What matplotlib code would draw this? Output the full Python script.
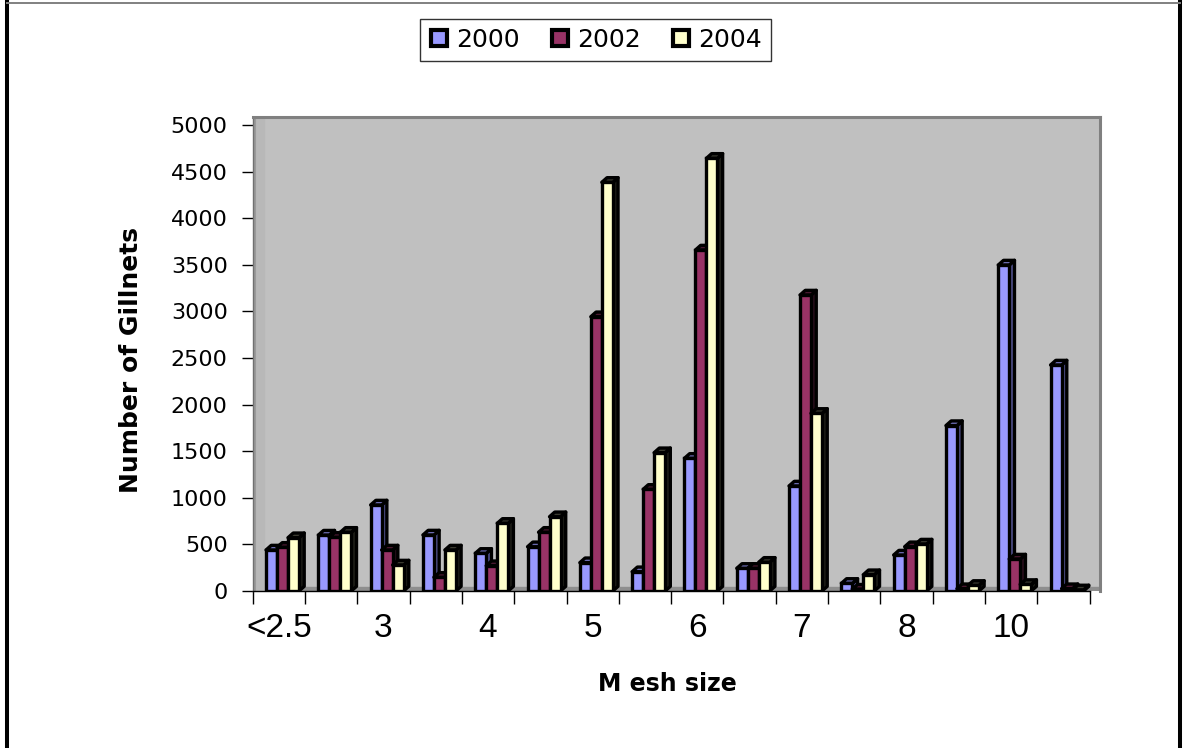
"""Gillnets by mesh size, 2000 / 2002 / 2004 — Excel-style 3D column chart."""
import matplotlib
matplotlib.use("Agg")
import matplotlib.pyplot as plt
import numpy as np
from matplotlib.lines import Line2D
from matplotlib.patches import Polygon

plt.rcParams["font.family"] = ["Liberation Sans", "DejaVu Sans"]

# === Data ===
mesh_labels = ["<2.5", "", "3", "", "4", "", "5", "", "6", "", "7", "", "8", "", "10", ""]
years = ["2000", "2002", "2004"]
y2000 = [440, 600, 923, 601, 404, 475, 304, 207, 1424, 243, 1127, 82, 386, 1775, 3498, 2425]
y2002 = [469, 576, 440, 147, 272, 630, 2943, 1091, 3659, 243, 3176, 20, 475, 25, 343, 25]
y2004 = [572, 630, 279, 440, 726, 797, 4385, 1484, 4643, 308, 1906, 175, 504, 60, 70, 12]

# === Style ===
FACE = ["#9999FF", "#993366", "#FFFFCC"]
SIDE = ["#50508C", "#2A0E1C", "#1E1E18"]
TOP = ["#6B6BB0", "#4A1830", "#3A3A30"]
W = 0.21      # bar width (category units)
SHIFT = 0.07  # group shift to the right
DX = 0.10     # depth offset x
DY = 50       # depth offset y
LW = 2.4

W_PX, H_PX = 1187, 748
fig = plt.figure(figsize=(W_PX / 100, H_PX / 100), dpi=100)
ax = fig.add_axes([252.7 / W_PX, 1 - 591 / H_PX, (1100 - 252.7) / W_PX, 474 / H_PX])
ax.set_facecolor("#C0C0C0")
ax.set_xlim(-0.5, 15.7)
ax.set_ylim(0, 5086)

# floor + left wall edge
ax.axhspan(0, DY * 0.9, color="#8E8E8E", zorder=0.5)
ax.axvspan(-0.5, -0.28, color="#B8B8B8", zorder=0.55)
ax.axvline(-0.46, color="#9A9A9A", lw=1.5, zorder=0.6)

series = [y2000, y2002, y2004]
n = len(mesh_labels)
z = 2.0
for i in range(n):
    for k, vals in enumerate(series):
        v = vals[i]
        x0 = i + SHIFT + (k - 1) * W - W / 2
        x1 = x0 + W
        side = Polygon([(x1, 0), (x1 + DX, DY), (x1 + DX, v + DY), (x1, v)],
                       closed=True, fc=SIDE[k], ec="k", lw=LW, zorder=z, joinstyle="round")
        top = Polygon([(x0, v), (x0 + DX, v + DY), (x1 + DX, v + DY), (x1, v)],
                      closed=True, fc=TOP[k], ec="k", lw=LW, zorder=z, joinstyle="round")
        ax.add_patch(side)
        ax.add_patch(top)
        ax.bar(x0 + W / 2, v, W, color=FACE[k], edgecolor="k", linewidth=LW, zorder=z + 0.05)
        z += 0.1

# spines
for s in ("top", "right"):
    ax.spines[s].set_color("#808080")
    ax.spines[s].set_linewidth(2.2)
ax.spines["left"].set_color("#707070")
ax.spines["left"].set_linewidth(1.0)
ax.spines["bottom"].set_color("k")
ax.spines["bottom"].set_linewidth(1.0)
ax.spines["bottom"].set_bounds(-0.5, n - 0.5)

# ticks
ax.set_xticks(np.arange(-0.5, n, 1.0))
ax.set_xticklabels([])
ax.set_xticks(np.arange(n), minor=True)
ax.set_xticklabels(mesh_labels, minor=True)
ax.tick_params(axis="x", which="major", length=9, direction="out", color="k", width=1)
ax.tick_params(axis="x", which="minor", length=0, pad=16, labelsize=24)
ax.set_yticks(np.arange(0, 5001, 500))
ax.tick_params(axis="y", length=8, pad=10, labelsize=16, color="k", width=1)
for lbl in ax.get_yticklabels():
    lbl.set_family("DejaVu Sans")

# axis titles
fig.text(131 / W_PX, 1 - 360 / H_PX, "Number of Gillnets", rotation=90,
         ha="center", va="center", fontsize=18, fontweight="heavy", family="DejaVu Sans")
fig.text(667 / W_PX, 1 - 684 / H_PX, "M esh size", ha="center", va="center",
         fontsize=17, fontweight="bold", family="DejaVu Sans")

# legend
handles = [Line2D([], [], ls="none", marker="s", ms=12, mfc=c, mec="k", mew=3) for c in FACE]
leg = fig.legend(handles, years, ncol=3, loc="center",
                 bbox_to_anchor=(595.5 / W_PX, 1 - 40 / H_PX),
                 frameon=True, fancybox=False, edgecolor="k",
                 prop={"family": "DejaVu Sans", "size": 18},
                 handlelength=0.8, handletextpad=0.3, columnspacing=1.2, borderpad=0.35)
leg.get_frame().set_linewidth(1.0)

# chart-area border
fig.add_artist(Line2D([7 / W_PX] * 2, [0, 1], transform=fig.transFigure, color="k", lw=2.9))
fig.add_artist(Line2D([1180 / W_PX] * 2, [0, 1], transform=fig.transFigure, color="k", lw=2.9))
fig.add_artist(Line2D([7 / W_PX, 1180 / W_PX], [1 - 2.5 / H_PX] * 2, transform=fig.transFigure,
                      color="#808080", lw=1.4))

fig.savefig("out.png", dpi=100)
